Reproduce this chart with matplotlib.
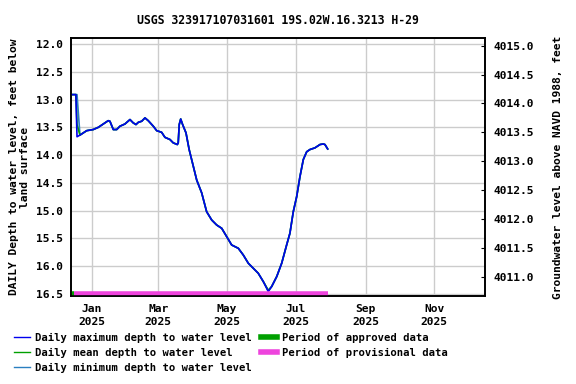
import matplotlib
matplotlib.use("Agg")
import matplotlib.pyplot as plt
import matplotlib.dates as mdates
from matplotlib.lines import Line2D
import pandas as pd

# ---- data (days relative to 2025-01-01, depth below land surface, ft) ----
day_offset = [-17.5, -14, -13, -10.4, -4.4, 1.4, 5.9, 10.3, 14.7, 16.2, 19.2, 22.2,
              25.1, 29.5, 34, 36.9, 39.3, 41.4, 44.4, 47.3, 50.2, 54.7, 57.7, 62.1,
              65, 69.5, 72.4, 76, 76.8, 77.7, 79, 80.7, 83.7, 86.5, 88.7, 93.2, 97.6,
              102, 106.5, 110.9, 115.4, 119.8, 124.2, 130.1, 134.5, 139, 143.4, 147.8,
              152.3, 156.7, 159.7, 164.2, 168.6, 173, 175.9, 178.9, 181.9, 184.8,
              187.8, 190.8, 193.7, 198.1, 202.6, 205.5, 207, 208.5, 209.4]
depth_mean = [12.91, 12.91, 13.45, 13.64, 13.56, 13.54, 13.50, 13.44, 13.38, 13.39, 13.54, 13.54,
              13.48, 13.44, 13.36, 13.42, 13.45, 13.41, 13.39, 13.33, 13.38, 13.48, 13.56, 13.59,
              13.68, 13.72, 13.78, 13.81, 13.78, 13.45, 13.35, 13.45, 13.60, 13.90, 14.08, 14.45, 14.68,
              15.02, 15.17, 15.26, 15.32, 15.47, 15.62, 15.68, 15.80, 15.95, 16.04, 16.13,
              16.28, 16.44, 16.37, 16.19, 15.95, 15.62, 15.41, 15.02, 14.75, 14.39,
              14.08, 13.94, 13.90, 13.87, 13.81, 13.80, 13.81, 13.86, 13.89]
depth_max = [12.91, 12.91, 13.67, 13.64, 13.56, 13.54, 13.50, 13.44, 13.38, 13.39, 13.54, 13.54,
             13.48, 13.44, 13.36, 13.42, 13.45, 13.41, 13.39, 13.33, 13.38, 13.48, 13.56, 13.59,
             13.68, 13.72, 13.78, 13.81, 13.78, 13.45, 13.35, 13.45, 13.60, 13.90, 14.08, 14.45, 14.68,
             15.02, 15.17, 15.26, 15.32, 15.47, 15.62, 15.68, 15.80, 15.95, 16.04, 16.13,
             16.28, 16.46, 16.37, 16.19, 15.95, 15.62, 15.41, 15.02, 14.75, 14.39,
             14.08, 13.94, 13.90, 13.87, 13.81, 13.80, 13.81, 13.86, 13.89]
depth_min = [12.91, 12.91, 12.91, 13.64, 13.56, 13.54, 13.50, 13.44, 13.38, 13.39, 13.54, 13.54,
             13.48, 13.44, 13.36, 13.42, 13.45, 13.41, 13.39, 13.33, 13.38, 13.48, 13.56, 13.59,
             13.68, 13.72, 13.78, 13.81, 13.78, 13.45, 13.35, 13.45, 13.60, 13.90, 14.08, 14.45, 14.68,
             15.02, 15.17, 15.26, 15.32, 15.47, 15.62, 15.68, 15.80, 15.95, 16.04, 16.13,
             16.28, 16.44, 16.37, 16.19, 15.95, 15.62, 15.41, 15.02, 14.75, 14.39,
             14.08, 13.94, 13.90, 13.87, 13.81, 13.80, 13.81, 13.86, 13.89]

approved_period = ["2024-12-13", "2024-12-16"]
provisional_period = ["2024-12-16", "2025-07-30"]
period_depth = 16.5

left_ticks = [12.0, 12.5, 13.0, 13.5, 14.0, 14.5, 15.0, 15.5, 16.0, 16.5]
right_ticks = [4011.0, 4011.5, 4012.0, 4012.5, 4013.0, 4013.5, 4014.0, 4014.5, 4015.0]
month_ticks = ["2025-01-01", "2025-03-01", "2025-05-01", "2025-07-01", "2025-09-01", "2025-11-01"]
month_labels = ["Jan\n2025", "Mar\n2025", "May\n2025", "Jul\n2025", "Sep\n2025", "Nov\n2025"]

title = "USGS 323917107031601 19S.02W.16.3213 H-29"
left_label = "DAILY Depth to water level, feet below\nland surface"
right_label = "Groundwater level above NAVD 1988, feet"

# ---- plotting ----
FAM = ['DejaVu Sans Mono']
plt.rcParams['font.family'] = FAM
plt.rcParams['font.weight'] = 'bold'
FW = 'bold'

base = pd.Timestamp("2025-01-01")
dates = [base + pd.Timedelta(days=d) for d in day_offset]

fig = plt.figure(figsize=(5.76, 3.84), dpi=100)
ax = fig.add_axes([71/576, 1 - 296/384, (485-71)/576, (296-38)/384])

c_max = "#0000ee"
c_mean = "#00a000"
c_min = "#2a7fc0"
c_appr = "#00a000"
c_prov = "#ee44dd"

ax.plot(dates, depth_min, color=c_min, lw=1.2, zorder=3)
ax.plot(dates, depth_mean, color=c_mean, lw=1.2, zorder=4)
ax.plot(dates, depth_max, color=c_max, lw=1.2, zorder=5)

ap = pd.to_datetime(approved_period)
pp = pd.to_datetime(provisional_period)
ax.plot(pp, [period_depth, period_depth], color=c_prov, lw=4, solid_capstyle='butt', zorder=6)
ax.plot(ap, [period_depth, period_depth], color=c_appr, lw=4, solid_capstyle='butt', zorder=7)

ax.set_xlim(mdates.date2num(pd.Timestamp("2024-12-13 16:00")), mdates.date2num(pd.Timestamp("2025-12-16")))
ax.set_ylim(16.54, 11.89)
ax.set_yticks(left_ticks)
ax.set_yticklabels([f"{v:.1f}" for v in left_ticks], fontsize=8.1, fontweight=FW)
ax.set_xticks(pd.to_datetime(month_ticks))
ax.set_xticklabels(month_labels, fontsize=8.1, linespacing=1.3, fontweight=FW)
ax.tick_params(axis='both', length=0)
ax.tick_params(axis='y', pad=6)
ax.tick_params(axis='x', pad=6)
ax.grid(True, color="#cccccc", lw=1)
ax.set_axisbelow(True)
for s in ax.spines.values():
    s.set_linewidth(1.2)
    s.set_color("black")

ax.set_title(title, fontsize=8.3, pad=10, fontweight=FW)
ax.set_ylabel(left_label, fontsize=8.1, labelpad=4, multialignment='center', fontweight=FW)

ax2 = ax.twinx()
ax2.set_ylim(4010.666, 4015.133)
ax2.set_yticks(right_ticks)
ax2.set_yticklabels([f"{v:.1f}" for v in right_ticks], fontsize=8.1, fontweight=FW)
ax2.tick_params(axis='y', direction='in', length=3, pad=6)
ax2.set_ylabel(right_label, fontsize=8.1, labelpad=14, fontweight=FW)
for s in ax2.spines.values():
    s.set_linewidth(1.2)

handles = [Line2D([], [], color=c_max, lw=1),
           Line2D([], [], color=c_mean, lw=1),
           Line2D([], [], color=c_min, lw=1),
           Line2D([], [], color=c_appr, lw=4),
           Line2D([], [], color=c_prov, lw=4)]
labels = ["Daily maximum depth to water level",
          "Daily mean depth to water level",
          "Daily minimum depth to water level",
          "Period of approved data",
          "Period of provisional data"]
fig.legend(handles, labels, loc='upper left', bbox_to_anchor=(14/576, 1 - 333/384),
           ncol=2, frameon=False, prop={'size': 7.6, 'weight': FW, 'family': FAM},
           handlelength=1.55, handletextpad=0.45,
           columnspacing=0.85, labelspacing=0.45, borderpad=0, borderaxespad=0)

fig.savefig("out.png", dpi=100)
